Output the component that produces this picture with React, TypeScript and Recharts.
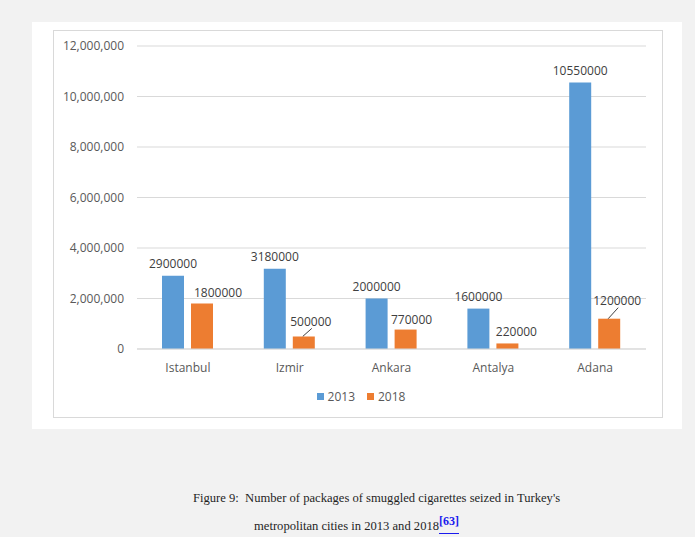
import React from 'react';
import { BarChart, Bar, XAxis, YAxis, CartesianGrid, Legend, LabelList } from 'recharts';

const cities = ['Istanbul', 'Izmir', 'Ankara', 'Antalya', 'Adana'];
const seized2013 = [2900000, 3180000, 2000000, 1600000, 10550000];
const seized2018 = [1800000, 500000, 770000, 220000, 1200000];
const yTicks = [0, 2000000, 4000000, 6000000, 8000000, 10000000, 12000000];

const data = cities.map((city, i) => ({ city, y2013: seized2013[i], y2018: seized2018[i] }));

const BLUE = '#5b9bd5';
const ORANGE = '#ed7d31';
const FONT = '"Open Sans", "Liberation Sans", sans-serif';

// in the original the 2018 labels were dragged aside, two of them got a leader line
const nudge2018 = [
  { dx: 16, up: 11, leader: false },
  { dx: 7, up: 15, leader: true },
  { dx: 6, up: 10, leader: false },
  { dx: 9, up: 12, leader: false },
  { dx: 8, up: 18, leader: true },
];

const makeLabel = (nudges?: typeof nudge2018) => (props: any) => {
  const { x, y, width, value, index } = props;
  const n = nudges ? nudges[index] : { dx: 0, up: 12, leader: false };
  const cx = x + width / 2;
  const lx = cx + n.dx;
  const ly = y - n.up;
  return (
    <g>
      {n.leader && <line x1={cx - 1} y1={y} x2={lx + 1} y2={ly + 7} stroke="#404040" strokeWidth={1} />}
      <text x={lx} y={ly + 4.3} textAnchor="middle" fontFamily={FONT} fontSize={12} fill="#404040">
        {value}
      </text>
    </g>
  );
};

const LegendBox = () => (
  <div
    style={{
      display: 'flex',
      justifyContent: 'center',
      alignItems: 'center',
      height: 20,
      marginLeft: 6,
      fontFamily: FONT,
      fontSize: 12,
      color: '#595959',
    }}
  >
    <span style={{ width: 7, height: 7, background: BLUE, marginRight: 4 }} />
    <span style={{ marginRight: 12 }}>2013</span>
    <span style={{ width: 7, height: 7, background: ORANGE, marginRight: 4 }} />
    <span>2018</span>
  </div>
);

const captionStyle: React.CSSProperties = {
  position: 'absolute',
  fontFamily: '"Liberation Serif", serif',
  fontSize: 12.6,
  lineHeight: '16px',
  color: '#1f1f1f',
  whiteSpace: 'pre',
};

export default function App() {
  return (
    <div style={{ position: 'absolute', left: 0, top: 0, width: 695, height: 537, background: '#f2f2f2' }}>
      <div style={{ position: 'absolute', left: 32, top: 22, width: 650, height: 407, background: '#fff' }} />
      <div
        style={{
          position: 'absolute',
          left: 53,
          top: 30,
          width: 608,
          height: 386,
          border: '1px solid #d9d9d9',
          background: '#fff',
        }}
      />
      <div style={{ position: 'absolute', left: 53, top: 30 }}>
        <BarChart
          width={610}
          height={388}
          data={data}
          margin={{ top: 16, right: 17, left: 0, bottom: 19 }}
          barSize={22}
          barGap={7}
        >
          <CartesianGrid vertical={false} stroke="#d9d9d9" />
          <XAxis
            dataKey="city"
            height={30}
            tickLine={false}
            tickSize={6}
            tickMargin={8}
            axisLine={{ stroke: '#d9d9d9' }}
            tick={{ fontFamily: FONT, fontSize: 12, fill: '#595959' }}
          />
          <YAxis
            width={84}
            domain={[0, 12000000]}
            ticks={yTicks}
            tickLine={false}
            axisLine={false}
            tickSize={6}
            tickMargin={7}
            tickFormatter={(v: number) => v.toLocaleString('en-US')}
            tick={{ fontFamily: FONT, fontSize: 12, fill: '#595959' }}
          />
          <Legend content={<LegendBox />} wrapperStyle={{ left: 0, width: 610, top: 356, bottom: 'auto' }} />
          <Bar dataKey="y2013" name="2013" fill={BLUE} isAnimationActive={false}>
            <LabelList dataKey="y2013" content={makeLabel()} />
          </Bar>
          <Bar dataKey="y2018" name="2018" fill={ORANGE} isAnimationActive={false}>
            <LabelList dataKey="y2018" content={makeLabel(nudge2018)} />
          </Bar>
        </BarChart>
      </div>
      <div style={{ ...captionStyle, left: 193, top: 490 }}>
        {"Figure 9:  Number of packages of smuggled cigarettes seized in Turkey's"}
      </div>
      <div style={{ ...captionStyle, left: 254, top: 513 }}>
        metropolitan cities in 2013 and 2018
        <span style={{ borderBottom: '1px solid #1a1aee' }}>
          <sup style={{ color: '#1a1aee', fontWeight: 'bold', fontSize: 12 }}>[63]</sup>
        </span>
      </div>
    </div>
  );
}
